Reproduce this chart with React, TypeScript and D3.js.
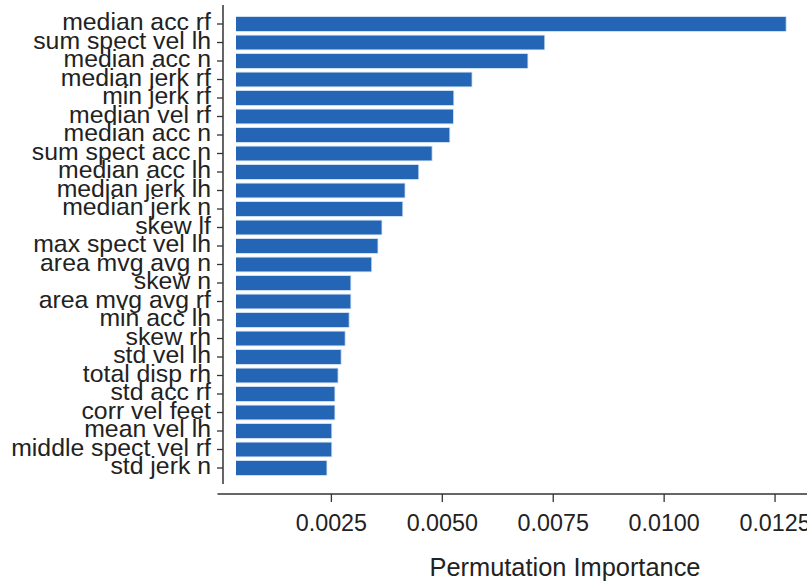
import React from "react";
import * as d3 from "d3";

const features = [
  "median acc rf", "sum spect vel lh", "median acc n", "median jerk rf", "min jerk rf",
  "median vel rf", "median acc n", "sum spect acc n", "median acc lh", "median jerk lh",
  "median jerk n", "skew lf", "max spect vel lh", "area mvg avg n", "skew n",
  "area mvg avg rf", "min acc lh", "skew rh", "std vel lh", "total disp rh",
  "std acc rf", "corr vel feet", "mean vel lh", "middle spect vel rf", "std jerk n",
];
const importances = [
  0.01275, 0.00731, 0.00693, 0.00567, 0.00526,
  0.00525, 0.00517, 0.00477, 0.00447, 0.00416,
  0.00411, 0.00364, 0.00355, 0.00341, 0.00294,
  0.00294, 0.0029, 0.00281, 0.00272, 0.00265,
  0.00258, 0.00258, 0.00251, 0.00251, 0.0024,
];
const xTicks = [0.0025, 0.005, 0.0075, 0.01, 0.0125];
const xDomain = [0.00035, 0.01322];
const xTitle = "Permutation Importance";

const W = 807;
const H = 583;
const FONT = "'Liberation Sans', Arial, sans-serif";
const TEXT = "#222222";
const AXIS = "#333333";

export default function App() {
  const x = d3.scaleLinear().domain(xDomain).range([236, 807]);
  const y = d3
    .scaleBand<number>()
    .domain(d3.range(features.length))
    .range([14.75, 477.25])
    .paddingInner(0.2)
    .paddingOuter(0.1);
  const yAxisX = 223;
  const xAxisY = 494;
  return (
    <svg
      width={W}
      height={H}
      style={{ position: "absolute", left: 0, top: 0, background: "#fff" }}
      fontFamily={FONT}
    >
      <defs>
        <clipPath id="plot">
          <rect x={x(xDomain[0])} y={0} width={W} height={H} />
        </clipPath>
      </defs>
      <g clipPath="url(#plot)">
        {importances.map((v, i) => (
          <rect
            key={i}
            x={x(0)}
            y={y(i)}
            width={x(v) - x(0)}
            height={y.bandwidth()}
            fill="#2565b5"
            stroke="#d6e6f5"
            strokeWidth={0.8}
          />
        ))}
      </g>
      {/* y axis */}
      <line x1={yAxisX} x2={yAxisX} y1={5} y2={484} stroke={AXIS} strokeWidth={1.5} />
      {features.map((f, i) => {
        const cy = (y(i) as number) + y.bandwidth() / 2;
        return (
          <g key={i}>
            <line x1={yAxisX - 6} x2={yAxisX} y1={cy} y2={cy} stroke={AXIS} strokeWidth={1.3} />
            <text
              x={211}
              y={cy}
              dy="0.26em"
              textAnchor="end"
              fontSize={24.8}
              fill={TEXT}
            >
              {f}
            </text>
          </g>
        );
      })}
      {/* x axis */}
      <line x1={x(0) - 3} x2={W} y1={xAxisY} y2={xAxisY} stroke={AXIS} strokeWidth={1.5} />
      {xTicks.map((t) => (
        <g key={t}>
          <line x1={x(t)} x2={x(t)} y1={xAxisY} y2={xAxisY + 8} stroke={AXIS} strokeWidth={1.3} />
          <text x={x(t)} y={531} textAnchor="middle" fontSize={23.3} fill={TEXT}>
            {d3.format(".4f")(t)}
          </text>
        </g>
      ))}
      <text x={565} y={576} textAnchor="middle" fontSize={25.4} fill={TEXT}>
        {xTitle}
      </text>
    </svg>
  );
}
